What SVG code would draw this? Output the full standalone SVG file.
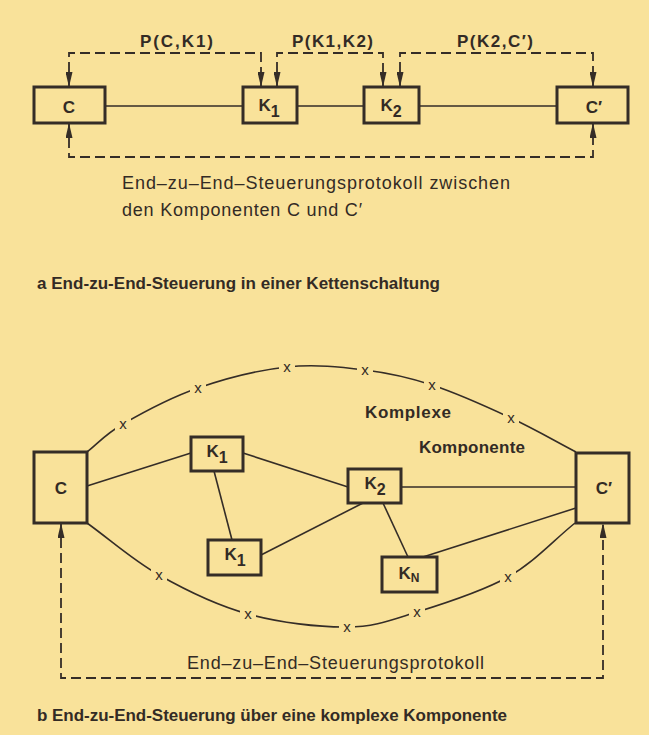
<svg xmlns="http://www.w3.org/2000/svg" width="649" height="735" viewBox="0 0 649 735">
<style>
.bg{fill:#F9E29A}
.box{fill:none;stroke:#352d27;stroke-width:3}
.ln{fill:none;stroke:#352d27;stroke-width:1.6}
.dash{fill:none;stroke:#352d27;stroke-width:1.8;stroke-dasharray:10 5;marker-start:url(#ah);marker-end:url(#ah)}
.t{font-family:"Liberation Sans",Arial,sans-serif;fill:#332b25}
.b{font-weight:bold}
.lbl{font-size:17px;font-weight:bold;text-anchor:middle}
.sub{font-size:16px}
.subn{font-size:12px}
.xm{font-family:"Liberation Sans",Arial,sans-serif;font-size:15px;fill:#332b25;text-anchor:middle}
.gap{fill:#F9E29A}
</style>
<defs>
<marker id="ah" markerUnits="userSpaceOnUse" markerWidth="15" markerHeight="7" viewBox="0 0 15 7" refX="15" refY="3.5" orient="auto-start-reverse">
<path d="M0,0 L15,3.5 L0,7 Z" fill="#352d27"/>
</marker>
</defs>
<rect class="bg" x="0" y="0" width="649" height="735"/>

<g id="connectors">
<!-- part a -->
<path class="ln" d="M105,106 H243 M297,106 H364 M419,106 H557"/>
<path class="dash" d="M69,87 V53 H261 V87"/>
<path class="dash" d="M277,87 V53 H383 V87"/>
<path class="dash" d="M400,87 V53 H593 V87"/>
<path class="dash" d="M69,123 V157 H593 V123"/>
<!-- part b -->
<path class="ln" d="M87,486 L191,453"/>
<path class="ln" d="M243,453 L348,487"/>
<path class="ln" d="M214,471 L232,540"/>
<path class="ln" d="M261,555 L363,503"/>
<path class="ln" d="M383,503 L408,557"/>
<path class="ln" d="M401,487 L576,487"/>
<path class="ln" d="M423,557 L576,508"/>
<path class="ln" d="M87,452 C99,442.7 104.5,434.7 123,424 C141.5,413.3 170.7,397.5 198,388 C225.3,378.5 259.2,370 287,367 C314.8,364 340.8,367 365,370 C389.2,373 407.7,377 432,385 C456.3,393 487,406.8 511,418 C535,429.2 554.3,440.7 576,452"/>
<path class="ln" d="M87,523 C111,540.3 132.2,559.8 159,575 C185.8,590.2 216.7,605.3 248,614 C279.3,622.7 318.8,627.3 347,627 C375.2,626.7 390.2,620.3 417,612 C443.8,603.7 481.7,591.8 508,577 C534.3,562.2 552.7,541 575,523"/>
<g id="xmarks">
<rect class="gap" x="115" y="418" width="16" height="12"/><text class="xm" x="123" y="429">x</text>
<rect class="gap" x="190" y="382" width="16" height="12"/><text class="xm" x="198" y="393">x</text>
<rect class="gap" x="279" y="361" width="16" height="12"/><text class="xm" x="287" y="372">x</text>
<rect class="gap" x="357" y="364" width="16" height="12"/><text class="xm" x="365" y="375">x</text>
<rect class="gap" x="424" y="379" width="16" height="12"/><text class="xm" x="432" y="390">x</text>
<rect class="gap" x="503" y="412" width="16" height="12"/><text class="xm" x="511" y="423">x</text>
<rect class="gap" x="151" y="569" width="16" height="12"/><text class="xm" x="159" y="580">x</text>
<rect class="gap" x="240" y="608" width="16" height="12"/><text class="xm" x="248" y="619">x</text>
<rect class="gap" x="339" y="621" width="16" height="12"/><text class="xm" x="347" y="632">x</text>
<rect class="gap" x="409" y="606" width="16" height="12"/><text class="xm" x="417" y="617">x</text>
<rect class="gap" x="500" y="571" width="16" height="12"/><text class="xm" x="508" y="582">x</text>
</g>
<path class="dash" d="M61,523 V678 H603 V523"/>
</g>

<!-- part a nodes -->
<g id="a_C"><rect class="box" x="34" y="87" width="71" height="36"/><text class="t lbl" x="69" y="113">C</text></g>
<g id="a_K1"><rect class="box" x="243" y="87" width="54" height="36"/><text class="t lbl" x="269" y="111">K<tspan class="sub" dy="6">1</tspan></text></g>
<g id="a_K2"><rect class="box" x="364" y="87" width="55" height="36"/><text class="t lbl" x="391" y="111">K<tspan class="sub" dy="6">2</tspan></text></g>
<g id="a_C2"><rect class="box" x="557" y="87" width="71" height="36"/><text class="t lbl" x="594" y="113">C′</text></g>

<g id="a_labels">
<text class="t b" x="140" y="47" font-size="17" textLength="73">P(C,K1)</text>
<text class="t b" x="292" y="47" font-size="17" textLength="81">P(K1,K2)</text>
<text class="t b" x="457" y="47" font-size="17" textLength="76">P(K2,C′)</text>
<text class="t" x="122" y="189" font-size="18" textLength="388">End–zu–End–Steuerungsprotokoll zwischen</text>
<text class="t" x="122" y="216" font-size="18" textLength="240">den Komponenten C und C′</text>
<text class="t b" x="37" y="289" font-size="17" textLength="403">a End-zu-End-Steuerung in einer Kettenschaltung</text>
</g>

<!-- part b nodes -->
<g id="b_C"><rect class="box" x="34" y="452" width="53" height="71"/><text class="t lbl" x="61" y="494">C</text></g>
<g id="b_C2"><rect class="box" x="576" y="453" width="53" height="70"/><text class="t lbl" x="604" y="494">C′</text></g>
<g id="b_K1"><rect class="box" x="191" y="437" width="52" height="34"/><text class="t lbl" x="217" y="457">K<tspan class="sub" dy="6">1</tspan></text></g>
<g id="b_K2"><rect class="box" x="348" y="469" width="53" height="34"/><text class="t lbl" x="375" y="489">K<tspan class="sub" dy="6">2</tspan></text></g>
<g id="b_K1b"><rect class="box" x="208" y="540" width="53" height="35"/><text class="t lbl" x="235" y="560">K<tspan class="sub" dy="6">1</tspan></text></g>
<g id="b_KN"><rect class="box" x="382" y="557" width="55" height="35"/><text class="t lbl" x="409" y="579">K<tspan class="subn" dy="3">N</tspan></text></g>

<g id="b_labels">
<text class="t b" x="365" y="418" font-size="17" textLength="86">Komplexe</text>
<text class="t b" x="419" y="453" font-size="17" textLength="106">Komponente</text>
<text class="t" x="187" y="669" font-size="18" textLength="297">End–zu–End–Steuerungsprotokoll</text>
<text class="t b" x="37" y="721" font-size="17" textLength="470">b End-zu-End-Steuerung über eine komplexe Komponente</text>
</g>
</svg>
